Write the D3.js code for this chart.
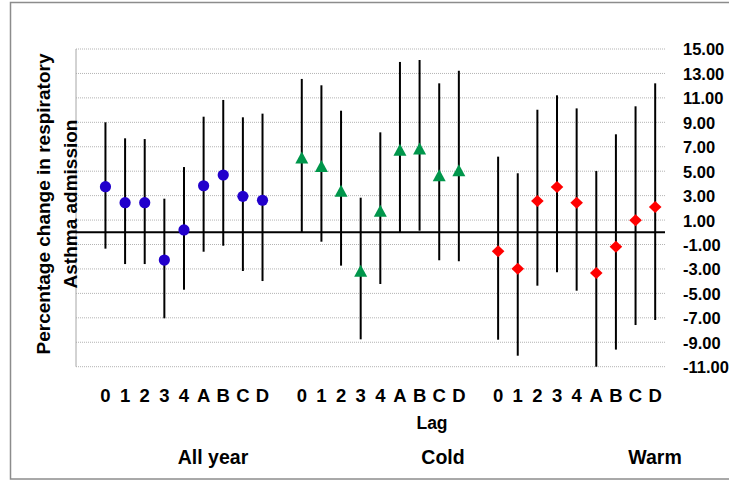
<!DOCTYPE html>
<html>
<head>
<meta charset="utf-8">
<script src="https://cdn.jsdelivr.net/npm/d3@7"></script>
<style>
  html, body { margin: 0; padding: 0; background: #fff; }
  svg { display: block; }
  text { font-family: "Liberation Sans", Arial, sans-serif; font-weight: bold; fill: #000; }
</style>
</head>
<body>
<svg id="chart" width="729" height="480"></svg>
<script>
// ---- data ----
const lags = ["0", "1", "2", "3", "4", "A", "B", "C", "D"];
const groups = ["All year", "Cold", "Warm"];
const yTicks = [15, 13, 11, 9, 7, 5, 3, 1, -1, -3, -5, -7, -9, -11];

const allYearEst  = [3.73, 2.42, 2.42, -2.27, 0.19, 3.81, 4.69, 2.94, 2.62];
const allYearLow  = [-1.34, -2.60, -2.60, -7.04, -4.70, -1.59, -1.10, -3.17, -3.99];
const allYearHigh = [9.00, 7.69, 7.63, 2.75, 5.34, 9.46, 10.83, 9.41, 9.71];

const coldEst  = [6.12, 5.43, 3.39, -3.15, 1.76, 6.75, 6.86, 4.67, 5.08];
const coldLow  = [0.02, -0.77, -2.73, -8.76, -4.23, 0.00, 0.13, -2.29, -2.37];
const coldHigh = [12.55, 12.03, 9.95, 2.83, 8.18, 13.94, 14.10, 12.19, 13.22];

const warmEst  = [-1.56, -2.98, 2.56, 3.71, 2.42, -3.33, -1.18, 0.98, 2.07];
const warmLow  = [-8.79, -10.10, -4.37, -3.27, -4.78, -11.00, -9.60, -7.59, -7.18];
const warmHigh = [6.19, 4.83, 10.03, 11.21, 10.14, 5.02, 8.02, 10.31, 12.19];

const seriesColors = ["#2200cc", "#00964b", "#ff0000"];
const seriesShapes = ["circle", "triangle", "diamond"];

(function () {
// ---- build table ----
const seriesData = [
  {group: groups[0], est: allYearEst, low: allYearLow, high: allYearHigh},
  {group: groups[1], est: coldEst, low: coldLow, high: coldHigh},
  {group: groups[2], est: warmEst, low: warmLow, high: warmHigh}
];
const rows = [];
seriesData.forEach((s, si) => {
  lags.forEach((lag, i) => {
    rows.push({key: s.group + "|" + lag, lag, si, est: s.est[i], low: s.low[i], high: s.high[i]});
  });
});
const slots = [];
groups.forEach((g, gi) => {
  slots.push("pad" + gi);
  lags.forEach(l => slots.push(g + "|" + l));
});

// ---- layout ----
const svg = d3.select("#chart");
const pLeft = 76, pRight = 665, pTop = 49, pBottom = 366.7;

const x = d3.scaleBand().domain(slots).range([pLeft, pRight]).padding(0);
const y = d3.scaleLinear().domain([-11, 15]).range([pBottom, pTop]);
const cx = k => x(k) + x.bandwidth() / 2;

// outer border
svg.append("rect")
  .attr("x", 10.5).attr("y", 2.5).attr("width", 740).attr("height", 476.5)
  .attr("fill", "none").attr("stroke", "#8c8c8c").attr("stroke-width", 1.5);

// gridlines
svg.append("g").selectAll("line").data(yTicks).join("line")
  .attr("x1", pLeft).attr("x2", pRight)
  .attr("y1", d => y(d)).attr("y2", d => y(d))
  .attr("stroke", "#b3b3b3").attr("stroke-width", 1)
  .attr("stroke-dasharray", "1,1");

// left vertical line
svg.append("line")
  .attr("x1", pLeft).attr("x2", pLeft).attr("y1", y(15)).attr("y2", y(-11))
  .attr("stroke", "#a6a6a6").attr("stroke-width", 1);

// zero line
svg.append("line")
  .attr("x1", pLeft).attr("x2", pRight).attr("y1", y(0)).attr("y2", y(0))
  .attr("stroke", "#000").attr("stroke-width", 2);

// right y axis
const fmt = d3.formatLocale({decimal: ".", thousands: ",", grouping: [3], currency: ["", ""], minus: "-"}).format(".2f");
const yAxis = svg.append("g")
  .attr("transform", `translate(${pRight},0)`)
  .call(d3.axisRight(y).tickValues(yTicks).tickFormat(fmt).tickSize(0).tickPadding(18));
yAxis.select(".domain").remove();
yAxis.selectAll("text")
  .attr("font-family", "Liberation Sans, Arial, sans-serif")
  .attr("font-weight", "bold").attr("font-size", 16.5).attr("fill", "#000")
  .attr("dy", "0.36em");

// bottom x labels
const xAxis = svg.append("g")
  .attr("transform", `translate(0,${pBottom})`)
  .call(d3.axisBottom(x).tickValues(rows.map(r => r.key)).tickFormat(k => k.split("|")[1]).tickSize(0).tickPadding(0));
xAxis.select(".domain").remove();
xAxis.selectAll("text")
  .attr("font-family", "Liberation Sans, Arial, sans-serif")
  .attr("font-weight", "bold").attr("font-size", 18.5).attr("fill", "#000")
  .attr("dy", null).attr("y", 402.5 - pBottom);

// error bars
svg.append("g").selectAll("line").data(rows).join("line")
  .attr("x1", d => cx(d.key)).attr("x2", d => cx(d.key))
  .attr("y1", d => y(d.low)).attr("y2", d => y(d.high))
  .attr("stroke", "#000").attr("stroke-width", 2);

// markers
function shapePath(shape, px, py) {
  if (shape === "triangle") {
    return `M${px},${py - 6}L${px + 6.5},${py + 6}L${px - 6.5},${py + 6}Z`;
  }
  if (shape === "diamond") {
    return `M${px},${py - 6}L${px + 6.3},${py}L${px},${py + 6}L${px - 6.3},${py}Z`;
  }
  const r = 5.6;
  return `M${px - r},${py}A${r},${r} 0 1,0 ${px + r},${py}A${r},${r} 0 1,0 ${px - r},${py}Z`;
}
svg.append("g").selectAll("path").data(rows).join("path")
  .attr("d", d => shapePath(seriesShapes[d.si], cx(d.key), y(d.est)))
  .attr("fill", d => seriesColors[d.si]);

// y title
svg.append("text")
  .attr("transform", "translate(50,204) rotate(-90)")
  .attr("text-anchor", "middle").attr("font-size", 19)
  .text("Percentage change in respiratory");
svg.append("text")
  .attr("transform", "translate(77,204) rotate(-90)")
  .attr("text-anchor", "middle").attr("font-size", 19)
  .text("Asthma admission");

// x title and group labels
svg.append("text").attr("x", 432).attr("y", 429).attr("text-anchor", "middle")
  .attr("font-size", 17.5).text("Lag");
const groupX = [213, 443, 655];
svg.append("g").selectAll("text").data(groups).join("text")
  .attr("x", (d, i) => groupX[i]).attr("y", 464).attr("text-anchor", "middle")
  .attr("font-size", 19.5).text(d => d);
})();
</script>
</body>
</html>
